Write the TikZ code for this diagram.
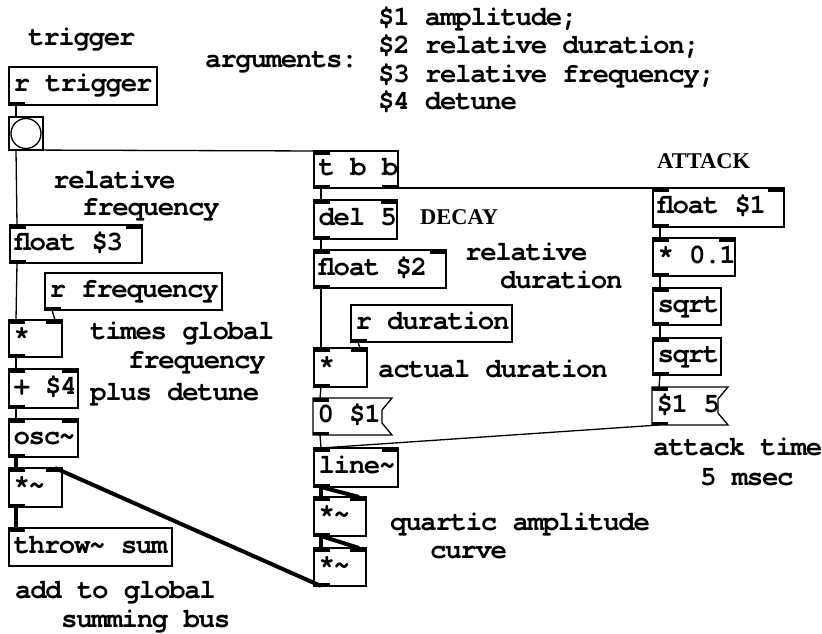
\documentclass[tikz,border=0pt]{standalone}
\usepackage{fontspec}
\usetikzlibrary{calc}
\newfontfamily\pdfont[LetterSpace=-5]{TeX Gyre Cursor}
\newfontfamily\capfont{Liberation Serif}
\tikzset{
  pdtext/.style={font=\pdfont\bfseries\fontsize{27.5}{30}\selectfont},
  pdo/.style={draw, line width=1.3pt, outer sep=0pt, inner xsep=4.5pt, inner ysep=0pt,
    text height=17pt, text depth=5pt, anchor=north west, pdtext},
  pdm/.style={pdo, draw=none},
  cmt/.style={anchor=base west, inner sep=0pt, pdtext},
  capcmt/.style={anchor=base west, inner sep=0pt, font=\capfont\bfseries\fontsize{22.5}{26}\selectfont},
  cord/.style={line width=1.3pt},
  sigcord/.style={line width=4pt},
}
\newcommand\pdbox[6]{%
  \pgfmathsetmacro\pdtw{#4-#2-9}%
  \pgfmathsetmacro\pdh{#5-#3}%
  \node[pdo, minimum height=\pdh pt] (#1) at (#2,#3) {\makebox[\pdtw pt][l]{#6}};}
\newcommand\pdmsg[6]{%
  \pgfmathsetmacro\pdtw{#4-#2-9}%
  \pgfmathsetmacro\pdh{#5-#3}%
  \node[pdm, minimum height=\pdh pt] (#1) at (#2,#3) {\makebox[\pdtw pt][l]{#6}};
  \draw[line width=1.3pt, line join=miter] (#1.north west) -- (#1.north east) -- ++(-10,12)
    -- ($(#1.south east)+(-10,-12)$) -- (#1.south east) -- (#1.south west) -- cycle;}
\newcommand\iL[1]{\fill (#1.north west) rectangle ++(16,3.5);}
\newcommand\iR[1]{\fill (#1.north east) rectangle ++(-16,3.5);}
\newcommand\oL[1]{\fill (#1.south west) rectangle ++(16,-3.5);}
\newcommand\oR[1]{\fill (#1.south east) rectangle ++(-16,-3.5);}
\newcommand\cLL[3][cord]{\draw[#1] ($(#2.south west)+(7,0)$) -- ($(#3.north west)+(7,0)$);}
\newcommand\cLR[3][cord]{\draw[#1] ($(#2.south west)+(7,0)$) -- ($(#3.north east)+(-7,0)$);}
\newcommand\cRL[3][cord]{\draw[#1] ($(#2.south east)+(-7,0)$) -- ($(#3.north west)+(7,0)$);}
\begin{document}
\begin{tikzpicture}[x=1pt, y=-1pt]
\fill[white] (0,0) rectangle (822,634);
\useasboundingbox (0,0) rectangle (822,634);

% comments
\node[cmt] (ctrig) at (28,46) {trigger};
\node[cmt] (cargs) at (205,68) {arguments:};
\node[cmt] (carg1) at (378,26) {\$1 amplitude;};
\node[cmt] (carg2) at (378,54) {\$2 relative duration;};
\node[cmt] (carg3) at (378,82) {\$3 relative frequency;};
\node[cmt] (carg4) at (378,110) {\$4 detune};
\node[cmt] (crel1) at (53,188) {relative};
\node[cmt] (crel2) at (82,215) {frequency};
\node[cmt] (ctim1) at (90,339) {times global};
\node[cmt] (ctim2) at (128,368) {frequency};
\node[cmt] (cplus) at (90,400) {plus detune};
\node[cmt] (cadd1) at (15,598) {add to global};
\node[cmt] (cadd2) at (61,627) {summing bus};
\node[capcmt] (cdecay) at (420,224) {DECAY};
\node[capcmt] (cattack) at (657,168) {ATTACK};
\node[cmt] (crd1) at (465,260) {relative};
\node[cmt] (crd2) at (500,288) {duration};
\node[cmt] (cact) at (378,377) {actual duration};
\node[cmt] (cat1) at (653,455) {attack time};
\node[cmt] (cat2) at (700,485) {5 msec};
\node[cmt] (cq1) at (390,530) {quartic amplitude};
\node[cmt] (cq2) at (430,558) {curve};

% left column
\pdbox{rtrig}{9}{67}{157}{105}{r trigger}
\node[draw, line width=1.3pt, outer sep=0pt, inner sep=0pt, minimum width=34pt, minimum height=33pt, anchor=north west] (bang) at (9,117) {};
\draw[line width=1.3pt] (bang.center) circle (15pt);
\pdbox{fthree}{10}{225}{142}{263}{float \$3}
\pdbox{rfreq}{45}{273}{222}{310}{r frequency}
\pdbox{mulA}{9}{320}{62}{357}{*}
\pdbox{addA}{9}{369}{78}{408}{+ \$4}
\pdbox{osc}{9}{419}{78}{457}{osc\textasciitilde}
\pdbox{smulA}{9}{468}{62}{507}{*\textasciitilde}
\pdbox{throw}{9}{528}{172}{566}{throw\textasciitilde{} sum}

% middle column
\pdbox{tbb}{314}{151}{398}{188}{t b b}
\pdbox{del}{314}{200}{397}{239}{del 5}
\pdbox{ftwo}{314}{250}{446}{288}{float \$2}
\pdbox{rdur}{351}{305}{512}{342}{r duration}
\pdbox{mulB}{314}{348}{367}{387}{*}
\pdmsg{msgA}{313}{398}{392}{435}{0 \$1}
\pdbox{line}{314}{448}{398}{487}{line\textasciitilde}
\pdbox{smulB}{314}{497}{366}{536}{*\textasciitilde}
\pdbox{smulC}{314}{548}{366}{586}{*\textasciitilde}

% right column
\pdbox{fone}{653}{188}{784}{227}{float \$1}
\pdbox{mulC}{653}{238}{735}{276}{* 0.1}
\pdbox{sqrtA}{653}{288}{721}{325}{sqrt}
\pdbox{sqrtB}{653}{338}{721}{375}{sqrt}
\pdmsg{msgB}{652}{387}{728}{425}{\$1 5}

% inlets / outlets
\oL{rtrig}
\iL{fthree}\iR{fthree}\oL{fthree}
\oL{rfreq}
\iL{mulA}\iR{mulA}\oL{mulA}
\iL{addA}\iR{addA}\oL{addA}
\iL{osc}\iR{osc}\oL{osc}
\iL{smulA}\iR{smulA}\oL{smulA}
\iL{throw}
\iL{tbb}\oL{tbb}\oR{tbb}
\iL{del}\iR{del}\oL{del}
\iL{ftwo}\iR{ftwo}\oL{ftwo}
\oL{rdur}
\iL{mulB}\iR{mulB}\oL{mulB}
\iL{msgA}\oL{msgA}
\iL{line}\iR{line}\oL{line}
\iL{smulB}\iR{smulB}\oL{smulB}
\iL{smulC}\iR{smulC}\oL{smulC}
\iL{fone}\iR{fone}\oL{fone}
\iL{mulC}\iR{mulC}\oL{mulC}
\iL{sqrtA}\oL{sqrtA}
\iL{sqrtB}\oL{sqrtB}
\iL{msgB}\oL{msgB}

% control connections
\cLL{rtrig}{bang}
\cLL{bang}{fthree}
\cLL{bang}{tbb}
\cLL{fthree}{mulA}
\cLR{rfreq}{mulA}
\cLL{mulA}{addA}
\cLL{addA}{osc}
\cLL{tbb}{del}
\cRL{tbb}{fone}
\cLL{del}{ftwo}
\cLL{ftwo}{mulB}
\cLR{rdur}{mulB}
\cLL{mulB}{msgA}
\cLL{msgA}{line}
\cLL{msgB}{line}
\cLL{fone}{mulC}
\cLL{mulC}{sqrtA}
\cLL{sqrtA}{sqrtB}
\cLL{sqrtB}{msgB}

% signal connections
\cLL[sigcord]{osc}{smulA}
\cLL[sigcord]{smulA}{throw}
\cLL[sigcord]{line}{smulB}
\cLR[sigcord]{line}{smulB}
\cLL[sigcord]{smulB}{smulC}
\cLR[sigcord]{smulB}{smulC}
\cLR[sigcord]{smulC}{smulA}
\end{tikzpicture}
\end{document}
